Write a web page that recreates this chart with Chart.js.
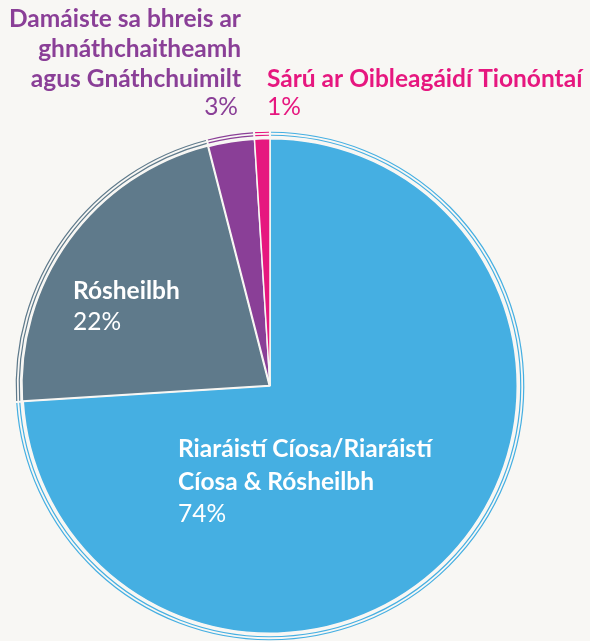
<!DOCTYPE html>
<html>
<head>
<meta charset="utf-8">
<script src="https://cdn.jsdelivr.net/npm/chart.js@4.4.1/dist/chart.umd.min.js"></script>
<style>
html,body{margin:0;padding:0;background:#f8f7f4;}
#wrap{width:590px;height:641px;position:relative;}
</style>
</head>
<body>
<div id="wrap"><canvas id="c" width="590" height="641"></canvas></div>
<script>
const categories = [
  "Riaráistí Cíosa/Riaráistí Cíosa & Rósheilbh",
  "Rósheilbh",
  "Damáiste sa bhreis ar ghnáthchaitheamh agus Gnáthchuimilt",
  "Sárú ar Oibleagáidí Tionóntaí"
];
const values = [74, 22, 3, 1];
const percentLabels = ["74%", "22%", "3%", "1%"];
const colors = ["#45afe2", "#5f7a8b", "#8a3f97", "#e6177f"];
const labelLines = [
  ["Riaráistí Cíosa/Riaráistí", "Cíosa & Rósheilbh"],
  ["Rósheilbh"],
  ["Damáiste sa bhreis ar", "ghnáthchaitheamh", "agus Gnáthchuimilt"],
  ["Sárú ar Oibleagáidí Tionóntaí"]
];

const FONT = "Lato, 'Open Sans', sans-serif";
const FS = 24.5;

const sketchPlugin = {
  id: 'sketch',
  afterDatasetsDraw(chart) {
    const ctx = chart.ctx;
    const meta = chart.getDatasetMeta(0);
    meta.data.forEach((arc, i) => {
      const p = arc.getProps(['x','y','startAngle','endAngle','outerRadius'], true);
      ctx.save();
      ctx.strokeStyle = colors[i];
      ctx.lineWidth = 1.2;
      [3.5, 6.5].forEach(off => {
        ctx.beginPath();
        ctx.arc(p.x, p.y, p.outerRadius + off, p.startAngle + 0.004, p.endAngle - 0.004);
        ctx.stroke();
      });
      ctx.restore();
    });
  }
};

const labelPlugin = {
  id: 'labels',
  afterDraw(chart) {
    const ctx = chart.ctx;
    const meta = chart.getDatasetMeta(0);
    const a0 = meta.data[0];
    const cx = a0.x, cy = a0.y;
    const B = "bold " + FS + "px " + FONT;
    const R = FS + "px " + FONT;
    ctx.save();
    ctx.textBaseline = 'middle';
    // Blue slice label
    ctx.fillStyle = '#ffffff';
    ctx.textAlign = 'left';
    ctx.font = B;
    ctx.fillText(labelLines[0][0], cx - 92, cy + 63);
    ctx.fillText(labelLines[0][1], cx - 92, cy + 96);
    ctx.font = R;
    ctx.fillText(percentLabels[0], cx - 92, cy + 128);
    // Gray slice label
    ctx.font = B;
    ctx.fillText(labelLines[1][0], cx - 197, cy - 95);
    ctx.font = R;
    ctx.fillText(percentLabels[1], cx - 197, cy - 64);
    // Purple label (outside, right aligned)
    ctx.fillStyle = colors[2];
    ctx.textAlign = 'right';
    ctx.font = B;
    ctx.fillText(labelLines[2][0], 241, 19);
    ctx.fillText(labelLines[2][1], 241, 49);
    ctx.fillText(labelLines[2][2], 241, 79);
    ctx.font = R;
    ctx.fillText(percentLabels[2], 238, 107);
    // Pink label
    ctx.fillStyle = colors[3];
    ctx.textAlign = 'left';
    ctx.font = B;
    ctx.fillText(labelLines[3][0], 267, 79);
    ctx.font = R;
    ctx.fillText(percentLabels[3], 267, 107);
    ctx.restore();
  }
};

new Chart(document.getElementById('c'), {
  type: 'pie',
  data: {
    labels: categories,
    datasets: [{
      data: values,
      backgroundColor: colors,
      borderColor: '#f8f7f4',
      borderWidth: 1.5,
      offset: [0, 4, 0, 0]
    }]
  },
  options: {
    responsive: false,
    animation: false,
    devicePixelRatio: 1,
    layout: { padding: { left: 20, right: 70, top: 136, bottom: 5 } },
    plugins: {
      legend: { display: false },
      tooltip: { enabled: false }
    }
  },
  plugins: [sketchPlugin, labelPlugin]
});
</script>
</body>
</html>
